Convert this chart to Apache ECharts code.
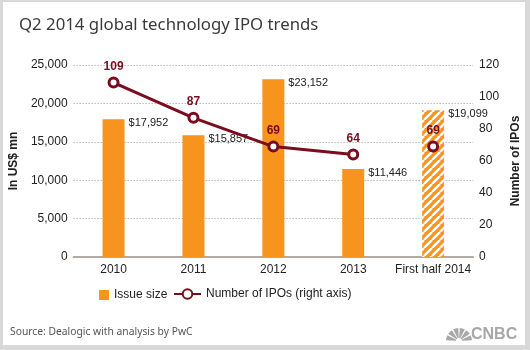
<!DOCTYPE html>
<html>
<head>
<meta charset="utf-8">
<script src="https://cdn.jsdelivr.net/npm/echarts@6/dist/echarts.min.js"></script>
<style>
  html, body { margin: 0; padding: 0; background: #d9d9d9; }
  #chart { width: 530px; height: 350px; }
</style>
</head>
<body>
<div id="chart"></div>
<script>
const years = ['2010', '2011', '2012', '2013', 'First half 2014'];
const issueSize = [17952, 15857, 23152, 11446, 19099];
const ipoCount = [109, 87, 69, 64, 69];

const orange = '#f7941d';
const maroon = '#7a0c1e';
const muted = '#222';
const logoGray = '#a8a8a8';

const chart = echarts.init(document.getElementById('chart'));

// hatch tile for the half-year bar: white "/" stripes on orange
const makeHatch = () => {
  const c = document.createElement('canvas');
  c.width = 8;
  c.height = 8;
  const ctx = c.getContext('2d');
  ctx.fillStyle = orange;
  ctx.fillRect(0, 0, 8, 8);
  ctx.strokeStyle = '#ffffff';
  ctx.lineWidth = 2.4;
  [-8, 0, 8].forEach((o) => {
    ctx.beginPath();
    ctx.moveTo(o, 8);
    ctx.lineTo(o + 8, 0);
    ctx.stroke();
  });
  return c;
};

const barData = issueSize.map((v, i) => {
  const item = { value: v };
  if (i === issueSize.length - 1) {
    item.itemStyle = { color: { image: makeHatch(), repeat: 'repeat' } };
  }
  return item;
});

const lineData = ipoCount.map((v, i) => (i < ipoCount.length - 1 ? v : '-'));
const halfData = ipoCount.map((v, i) => (i === ipoCount.length - 1 ? v : '-'));

const pointLabel = {
  show: true,
  position: 'top',
  distance: 4,
  color: maroon,
  fontWeight: 'bold',
  fontSize: 12,
  fontFamily: 'Liberation Sans, Arial, sans-serif',
};

// peacock-ish fan next to the logo text
const petals = [0, 1, 2, 3, 4, 5].map((k) => ({
  type: 'sector',
  shape: {
    cx: 459, cy: 341, r0: 3, r: 13,
    startAngle: Math.PI + k * Math.PI / 6 + 0.06,
    endAngle: Math.PI + (k + 1) * Math.PI / 6 - 0.06,
  },
  style: { fill: logoGray },
}));

chart.setOption({
  backgroundColor: 'transparent',
  animation: false,
  textStyle: { fontFamily: 'Liberation Sans, Arial, sans-serif' },
  graphic: [
    {
      type: 'rect',
      shape: { x: 3, y: 2, width: 522, height: 343 },
      style: { fill: '#ffffff' },
      z: -10,
    },
    {
      type: 'text',
      left: 19,
      top: 17,
      style: {
        text: 'Q2 2014 global technology IPO trends',
        fill: '#3a3a3a',
        font: '16.8px "Noto Sans", sans-serif',
      },
    },
    {
      type: 'text',
      left: 10,
      top: 327,
      style: {
        text: 'Source: Dealogic with analysis by PwC',
        fill: '#555',
        font: '10.3px "Noto Sans", sans-serif',
      },
    },
    {
      type: 'text',
      left: 471,
      top: 327,
      style: {
        text: 'CNBC',
        fill: logoGray,
        font: '900 16px "Liberation Sans", Arial, sans-serif',
      },
    },
    ...petals,
  ],
  grid: { left: 64, right: 45, top: 65, bottom: 93 },
  legend: [
    {
      left: 94,
      top: 284,
      itemWidth: 10,
      itemHeight: 10,
      itemGap: 5,
      textStyle: { color: muted, fontSize: 12 },
      data: [{ name: 'Issue size', icon: 'rect', itemStyle: { color: orange } }],
    },
    {
      left: 168,
      top: 283,
      itemWidth: 27,
      itemHeight: 12,
      itemGap: 5,
      textStyle: { color: muted, fontSize: 12 },
      data: [{ name: 'Number of IPOs (right axis)' }],
    },
  ],
  xAxis: {
    type: 'category',
    data: years,
    axisTick: { show: false },
    axisLine: { lineStyle: { color: '#b3aaa3', width: 2 } },
    axisLabel: { color: muted, fontSize: 12, margin: 7, interval: 0 },
  },
  yAxis: [
    {
      type: 'value',
      min: 0,
      max: 25000,
      interval: 5000,
      name: 'In US$ mn',
      nameLocation: 'middle',
      nameGap: 40,
      nameTextStyle: { color: muted, fontWeight: 'bold', fontSize: 12 },
      axisLine: { show: false },
      axisTick: { show: false },
      axisLabel: {
        color: muted,
        fontSize: 12,
        margin: 6,
        formatter: (v) => v.toLocaleString('en-US'),
      },
      splitLine: { lineStyle: { color: '#999', type: [1, 2], width: 1 } },
    },
    {
      type: 'value',
      min: 0,
      max: 120,
      interval: 20,
      name: 'Number of IPOs',
      nameLocation: 'middle',
      nameGap: 30,
      nameRotate: 90,
      nameTextStyle: { color: muted, fontWeight: 'bold', fontSize: 12 },
      axisLine: { show: false },
      axisTick: { show: false },
      axisLabel: { color: muted, fontSize: 12, margin: 6 },
      splitLine: { show: false },
    },
  ],
  series: [
    {
      name: 'Issue size',
      type: 'bar',
      barWidth: 22,
      itemStyle: { color: orange },
      label: {
        show: true,
        position: ['100%', -2],
        offset: [4, 0],
        align: 'left',
        verticalAlign: 'top',
        color: muted,
        fontSize: 11,
        formatter: (p) => '$' + p.value.toLocaleString('en-US'),
      },
      data: barData,
    },
    {
      name: 'Number of IPOs (right axis)',
      type: 'line',
      yAxisIndex: 1,
      symbol: 'circle',
      symbolSize: 9,
      lineStyle: { color: maroon, width: 3 },
      itemStyle: { color: '#ffffff', borderColor: maroon, borderWidth: 3 },
      label: pointLabel,
      data: lineData,
      z: 5,
    },
    {
      name: 'Number of IPOs (right axis)',
      type: 'line',
      yAxisIndex: 1,
      symbol: 'circle',
      symbolSize: 9,
      lineStyle: { color: maroon, width: 3 },
      itemStyle: { color: '#ffffff', borderColor: maroon, borderWidth: 3 },
      label: pointLabel,
      data: halfData,
      z: 5,
    },
  ],
});
</script>
</body>
</html>
